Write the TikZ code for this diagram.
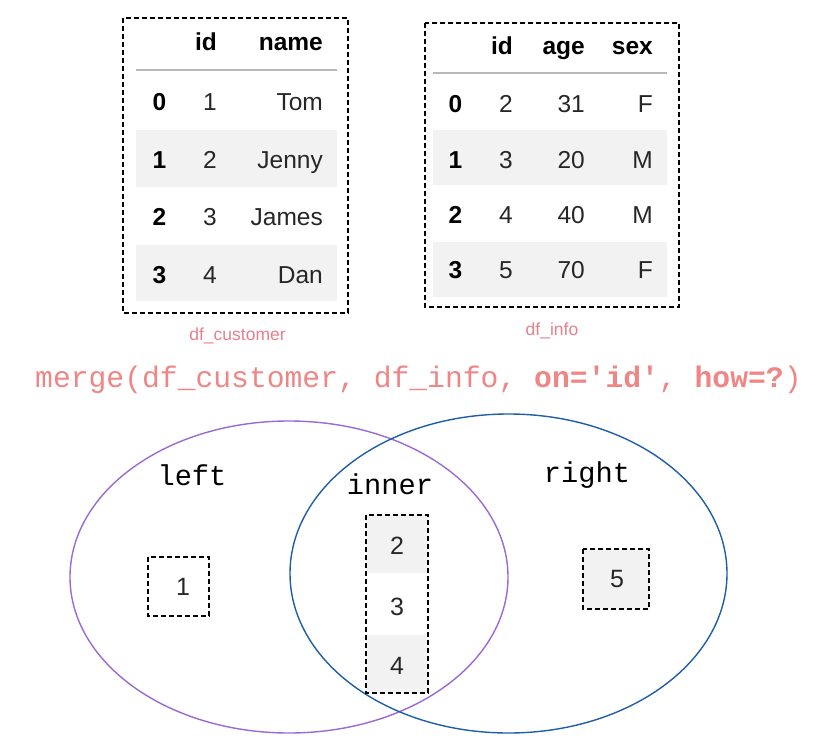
\documentclass[tikz,border=0pt]{standalone}
\usepackage{fontspec}
\setmainfont{Liberation Sans}
\newfontfamily\codefont{Liberation Mono}
\definecolor{ink}{HTML}{262626}
\definecolor{rowshade}{HTML}{F2F2F2}
\definecolor{rulegray}{HTML}{B8B8B8}
\definecolor{codepink}{HTML}{EF8585}
\definecolor{labelpink}{HTML}{E8808C}
\definecolor{leftset}{HTML}{9A6AD4}
\definecolor{rightset}{HTML}{1F5EA8}

\begin{document}
\begin{tikzpicture}[x=1pt,y=-1pt,
  cell/.style={inner sep=0pt, text=ink, font=\fontsize{24.5}{24.5}\selectfont},
  rcell/.style={cell, anchor=base east},
  hcell/.style={cell, anchor=base east, text=black, font=\fontsize{24.5}{24.5}\selectfont\bfseries},
  icell/.style={cell, anchor=base, text=black, font=\fontsize{24.5}{24.5}\selectfont\bfseries},
  frame/.style={draw=black, line width=1.3pt, dash pattern=on 5pt off 3pt},
  shade/.style={fill=rowshade, draw=none},
  headrule/.style={draw=rulegray, line width=2pt},
  tablename/.style={inner sep=0pt, anchor=base, text=labelpink, font=\fontsize{17.5}{17.5}\selectfont},
  setlabel/.style={inner sep=0pt, anchor=base, text=black, font=\codefont\fontsize{28.7}{28.7}\selectfont},
  member/.style={inner sep=0pt, text=ink, font=\fontsize{25}{25}\selectfont},
  setline/.style={line width=1.4pt}
]
\useasboundingbox (0,0) rectangle (828,744);

% ---------- df_customer ----------
\fill[shade] (136,130) rectangle (337,187);
\fill[shade] (136,245) rectangle (337,301);
\draw[headrule] (136,70) -- (337,70);
\node[hcell] (c-h-id) at (217,50) {id};
\node[hcell] (c-h-name) at (323,50) {name};
\node[icell] (c-i0) at (159.5,110) {0};
\node[icell] (c-i1) at (159.5,168) {1};
\node[icell] (c-i2) at (159.5,225) {2};
\node[icell] (c-i3) at (159.5,283) {3};
\node[rcell] (c-id0) at (217,110) {1};
\node[rcell] (c-id1) at (217,168) {2};
\node[rcell] (c-id2) at (217,225) {3};
\node[rcell] (c-id3) at (217,283) {4};
\node[rcell] (c-n0) at (323,110) {Tom};
\node[rcell] (c-n1) at (323,168) {Jenny};
\node[rcell] (c-n2) at (323,225) {James};
\node[rcell] (c-n3) at (323,283) {Dan};
\draw[frame] (123,18) rectangle (348,313);
\node[tablename] (c-name) at (237.5,340) {df\_customer};

% ---------- df_info ----------
\fill[shade] (433,130) rectangle (667,185);
\fill[shade] (433,242) rectangle (667,297);
\draw[headrule] (433,73) -- (667,73);
\node[hcell] (i-h-id) at (513,54) {id};
\node[hcell] (i-h-age) at (585,54) {age};
\node[hcell] (i-h-sex) at (653,54) {sex};
\node[icell] (i-i0) at (455.5,112) {0};
\node[icell] (i-i1) at (455.5,168) {1};
\node[icell] (i-i2) at (455.5,223) {2};
\node[icell] (i-i3) at (455.5,278) {3};
\node[rcell] (i-id0) at (513,112) {2};
\node[rcell] (i-id1) at (513,168) {3};
\node[rcell] (i-id2) at (513,223) {4};
\node[rcell] (i-id3) at (513,278) {5};
\node[rcell] (i-a0) at (585,112) {31};
\node[rcell] (i-a1) at (585,168) {20};
\node[rcell] (i-a2) at (585,223) {40};
\node[rcell] (i-a3) at (585,278) {70};
\node[rcell] (i-s0) at (653,112) {F};
\node[rcell] (i-s1) at (653,168) {M};
\node[rcell] (i-s2) at (653,223) {M};
\node[rcell] (i-s3) at (653,278) {F};
\draw[frame] (425,23) rectangle (679,307);
\node[tablename] (i-name) at (552,335) {df\_info};

% ---------- merge call ----------
\node[inner sep=0pt, anchor=base west, text=codepink,
      font=\codefont\fontsize{29.7}{29.7}\selectfont] (call) at (35,387)
  {merge(df\_customer, df\_info, \textbf{on='id'}, \textbf{how=?})};

% ---------- Venn diagram ----------
\draw[setline, draw=leftset] (289,577) ellipse [x radius=219, y radius=156];
\draw[setline, draw=rightset] (508.5,573.5) ellipse [x radius=218.5, y radius=159.5];

\node[setlabel] (lbl-left) at (192,485) {left};
\node[setlabel] (lbl-inner) at (390,494) {inner};
\node[setlabel] (lbl-right) at (587,482) {right};

% left only
\draw[frame] (148,557) rectangle (209,616);
\node[member] (m1) at (183,587) {1};

% inner
\fill[shade] (366,515) rectangle (428,573);
\fill[shade] (366,635) rectangle (428,693);
\draw[frame] (366,515) rectangle (428,693);
\node[member] (m2) at (397,546) {2};
\node[member] (m3) at (397,607) {3};
\node[member] (m4) at (397,666) {4};

% right only
\fill[shade] (583,549) rectangle (649,609);
\draw[frame] (583,549) rectangle (649,609);
\node[member] (m5) at (617,579) {5};
\end{tikzpicture}
\end{document}
